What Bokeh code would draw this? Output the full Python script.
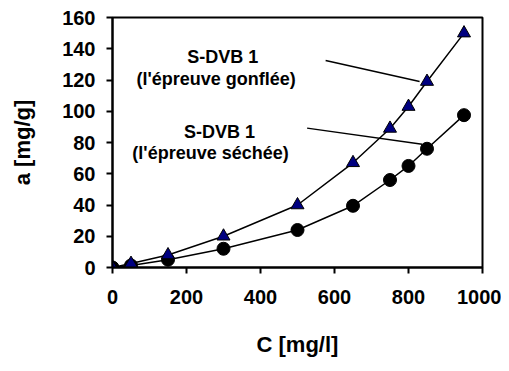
from bokeh.plotting import figure
from bokeh.models import Range1d, ColumnDataSource
from bokeh.core.properties import value
from bokeh.embed import file_html
from bokeh.resources import INLINE

# Data
c_swollen = [0, 50, 150, 300, 500, 650, 750, 800, 850, 950]
a_swollen = [0, 2.5, 8, 20, 40, 67, 89, 103, 119, 150]
c_dried = [0, 50, 150, 300, 500, 650, 750, 800, 850, 950]
a_dried = [0, 1.3, 5, 12, 24, 39.5, 56, 65, 76, 97.5]

x_ticks = [0, 200, 400, 600, 800, 1000]
y_ticks = [0, 20, 40, 60, 80, 100, 120, 140, 160]

label_lines = ["S-DVB 1", "(l'épreuve gonflée)", "S-DVB 1", "(l'épreuve séchée)"]
label_x = [298, 280, 289, 265]
label_y = [134.6, 120.6, 87, 73.5]

leader_x0 = [576, 526]
leader_y0 = [132.5, 89.2]
leader_x1 = [830, 837]
leader_y1 = [119, 78.9]

FONT = "Liberation Sans"

p = figure(width=501, height=363, output_backend="svg", toolbar_location=None,
           x_range=Range1d(0, 1000), y_range=Range1d(0, 160),
           min_border_left=112, min_border_right=19, min_border_top=17,
           min_border_bottom=96)
p.grid.visible = False
p.background_fill_color = "white"
p.border_fill_color = "white"
p.outline_line_color = "black"
p.outline_line_width = 2

for ax in (p.xaxis[0], p.yaxis[0]):
    ax.axis_line_width = 2
    ax.axis_line_color = "black"
    ax.major_tick_line_width = 2
    ax.major_tick_line_color = "black"
    ax.major_tick_out = 6
    ax.major_tick_in = 0
    ax.minor_tick_line_color = None
    ax.major_label_text_font = FONT
    ax.major_label_text_font_style = "bold"
    ax.major_label_text_font_size = "20px"
    ax.major_label_text_color = "black"
    ax.axis_label_text_font = FONT
    ax.axis_label_text_font_style = "bold"
    ax.axis_label_text_font_size = "22px"
    ax.axis_label_text_color = "black"

p.xaxis.ticker = x_ticks
p.yaxis.ticker = y_ticks
p.xaxis.major_label_standoff = 16
p.yaxis.major_label_standoff = 11
p.xaxis.axis_label = "C [mg/l]"
p.yaxis.axis_label = "a [mg/g]"
p.xaxis.axis_label_standoff = 25
p.yaxis.axis_label_standoff = 24

# series lines
p.line(c_swollen, a_swollen, line_color="black", line_width=1.5)
p.line(c_dried, a_dried, line_color="black", line_width=1.5)

# markers
p.scatter(c_dried, a_dried, marker="circle", size=13, fill_color="black", line_color="black")
p.scatter(c_swollen, a_swollen, marker="triangle", size=13, fill_color="#000080",
          line_color="black", line_width=1)

# leader lines
p.segment(x0=leader_x0, y0=leader_y0, x1=leader_x1, y1=leader_y1,
          line_color="black", line_width=1.5)

src = ColumnDataSource(dict(x=label_x, y=label_y, t=label_lines))
p.text(x="x", y="y", text="t", source=src, text_align="center", text_baseline="middle",
       text_font=value(FONT), text_font_style="bold", text_font_size="18px",
       text_color="black")

open("out.html", "w").write(file_html(p, INLINE))
